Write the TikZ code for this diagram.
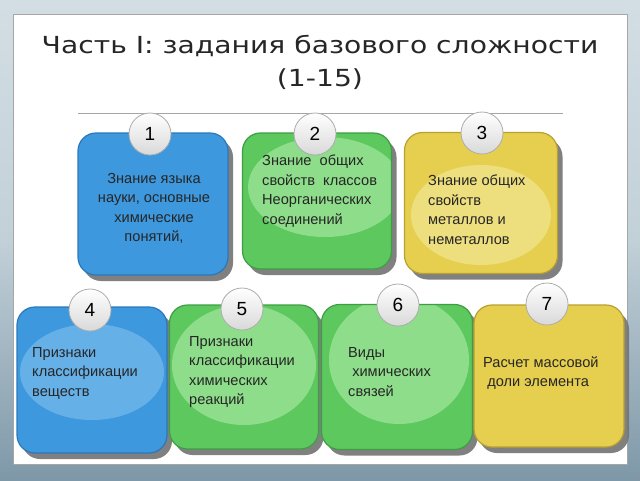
\documentclass[tikz,border=0pt]{standalone}
\usepackage{fontspec}
\setmainfont{Liberation Sans}
\newfontfamily\titlefont{DejaVu Sans}
\usetikzlibrary{shadows}
\definecolor{bgA}{HTML}{D3DEE4}
\definecolor{bgB}{HTML}{7E98A8}
\definecolor{blueB}{HTML}{3D98DE}
\definecolor{blueD}{HTML}{2A78BC}
\definecolor{blueL}{HTML}{7DBDEE}
\definecolor{greenB}{HTML}{5CC85E}
\definecolor{greenD}{HTML}{3E9E44}
\definecolor{greenL}{HTML}{A9E9A2}
\definecolor{yelB}{HTML}{E6CF4E}
\definecolor{yelD}{HTML}{B8A030}
\definecolor{yelL}{HTML}{F3E898}
\def\hlx{0pt}
\def\hly{0pt}
\def\hlrx{66pt}
\def\hlry{52pt}
\tikzset{
  hl/.code args={#1/#2/#3/#4}{\def\hlx{#1}\def\hly{#2}\def\hlrx{#3}\def\hlry{#4}},
  panel/.style={draw=gray!70, fill=white, inner sep=0pt, minimum width=614pt, minimum height=450pt},
  cardbox/.style n args={3}{rectangle, rounded corners=18pt, draw=#2, line width=1.2pt, fill=#1,
     inner sep=0pt, drop shadow={shadow xshift=5pt, shadow yshift=-6pt, fill=black!55, opacity=0.9},
     path picture={\fill[#3, opacity=0.65] ([xshift=\hlx, yshift=\hly]path picture bounding box.center) ellipse [x radius=\hlrx, y radius=\hlry];}},
  bluecard/.style={cardbox={blueB}{blueD}{blueL}},
  greencard/.style={cardbox={greenB}{greenD}{greenL}},
  yellowcard/.style={cardbox={yelB}{yelD}{yelL}},
  numdisc/.style={circle, minimum size=42pt, inner sep=0pt, draw=gray!65, line width=0.8pt,
     top color=white, bottom color=gray!30, font=\fontsize{19}{19}\selectfont},
  txt/.style={font=\fontsize{14.6}{19.5}\selectfont, text=black!85, inner sep=0pt},
  txtl/.style={txt, align=left, anchor=north west},
  txtc/.style={txt, align=center, anchor=north},
}
\begin{document}
\begin{tikzpicture}[x=1pt,y=-1pt]
\useasboundingbox (0,0) rectangle (640,480);
\shade[top color=bgA, bottom color=bgB, middle color=bgA!80!bgB] (0,0) rectangle (640,480);
\node[panel] (panel) at (320,239) {};
\node[font=\titlefont\fontsize{23.5}{33}\selectfont, align=center, text=black!85, xscale=1.2] (title) at (320,62)
  {Часть I: задания базового сложности\\(1-15)};
\coordinate (ruleL) at (78,113);
\coordinate (ruleR) at (563,113);
\draw[gray!70, line width=1pt] (ruleL) -- (ruleR);

% row 1
\node[bluecard, hl={0pt/0pt/0pt/0pt}, minimum width=150pt, minimum height=142pt] (b1) at (153,204) {};
\node[greencard, hl={8pt/14pt/77pt/50pt}, minimum width=149pt, minimum height=136pt] (b2) at (317,201) {};
\node[yellowcard, hl={0pt/-12pt/70pt/50pt}, minimum width=153pt, minimum height=141pt] (b3) at (481,203) {};
% row 2
\node[bluecard, hl={0pt/8pt/72pt/48pt}, minimum width=150pt, minimum height=146pt] (b4) at (92,380) {};
\node[greencard, hl={0pt/12pt/72pt/60pt}, minimum width=149pt, minimum height=144pt] (b5) at (244,377) {};
\node[greencard, hl={2pt/17pt/70pt/64pt}, minimum width=151pt, minimum height=145pt] (b6) at (397,377) {};
\node[yellowcard, hl={0pt/0pt/0pt/0pt}, minimum width=150pt, minimum height=142pt] (b7) at (549,376) {};

% texts
\node[txtc] (t1) at (154,173) {Знание языка\\науки, основные\\химические\\понятий,};
\node[txtl] (t2) at (262,155) {Знание\ \ общих\\свойств\ \ классов\\Неорганических\\соединений};
\node[txtl] (t3) at (428,175) {Знание общих\\свойств\\металлов и\\неметаллов};
\node[txtl] (t4) at (32,347) {Признаки\\классификации\\веществ};
\node[txtl] (t5) at (189,336) {Признаки\\классификации\\химических\\реакций};
\node[txtl] (t6) at (348,347) {Виды\\\ химических\\связей};
\node[txtl] (t7) at (483,356) {Расчет массовой\\\ доли элемента};

% number discs
\node[numdisc] (n1) at (150,134) {1};
\node[numdisc] (n2) at (315,134) {2};
\node[numdisc] (n3) at (482,133) {3};
\node[numdisc] (n4) at (90,310) {4};
\node[numdisc] (n5) at (242,309) {5};
\node[numdisc] (n6) at (398,305) {6};
\node[numdisc] (n7) at (547,304) {7};
\end{tikzpicture}
\end{document}
